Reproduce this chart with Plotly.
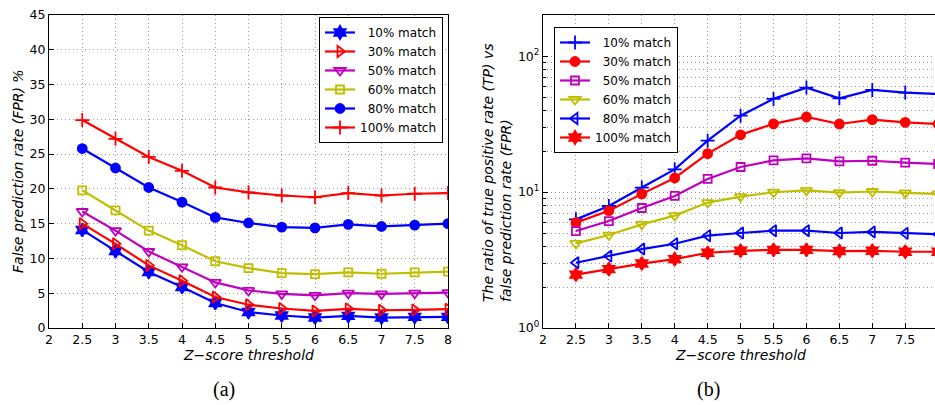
import plotly.graph_objects as go

z = [2.5, 3, 3.5, 4, 4.5, 5, 5.5, 6, 6.5, 7, 7.5, 8]
labels = ["10% match", "30% match", "50% match", "60% match", "80% match", "100% match"]

# (a) False prediction rate (%)
fpr_10 = [14.1, 11.05, 8.05, 5.9, 3.6, 2.3, 1.8, 1.5, 1.75, 1.5, 1.6, 1.6]
fpr_30 = [15.0, 12.1, 9.0, 6.8, 4.45, 3.35, 2.8, 2.45, 2.75, 2.55, 2.6, 2.7]
fpr_50 = [16.75, 14.0, 11.0, 8.8, 6.55, 5.4, 4.9, 4.7, 5.0, 4.9, 5.0, 5.1]
fpr_60 = [19.8, 16.9, 14.0, 11.9, 9.6, 8.6, 7.9, 7.75, 8.0, 7.8, 8.0, 8.1]
fpr_80 = [25.8, 23.0, 20.2, 18.1, 15.9, 15.1, 14.5, 14.4, 14.9, 14.6, 14.8, 15.0]
fpr_100 = [29.9, 27.2, 24.6, 22.6, 20.2, 19.5, 19.05, 18.8, 19.4, 19.05, 19.3, 19.4]

# (b) ratio TP / FPR
ratio_10 = [6.3, 7.9, 10.8, 14.7, 23.9, 36.5, 48.5, 58.7, 49.0, 56.5, 54.0, 52.7]
ratio_30 = [5.96, 7.3, 9.7, 12.7, 19.2, 26.4, 31.8, 35.7, 31.7, 34.1, 32.6, 31.7]
ratio_50 = [5.17, 6.12, 7.64, 9.37, 12.5, 15.3, 17.1, 17.7, 16.8, 17.0, 16.5, 16.1]
ratio_60 = [4.19, 4.83, 5.79, 6.71, 8.37, 9.27, 9.97, 10.3, 9.92, 10.1, 9.86, 9.7]
ratio_80 = [3.02, 3.38, 3.81, 4.17, 4.78, 5.0, 5.2, 5.2, 5.0, 5.09, 4.97, 4.9]
ratio_100 = [2.47, 2.71, 2.98, 3.21, 3.58, 3.70, 3.76, 3.76, 3.68, 3.70, 3.64, 3.64]

x_ticks = [2, 2.5, 3, 3.5, 4, 4.5, 5, 5.5, 6, 6.5, 7, 7.5, 8]
y_ticks_a = [0, 5, 10, 15, 20, 25, 30, 35, 40, 45]
y_ticks_b = [1, 10, 100]
y_ticktext_b = ["10<sup>0</sup>", "10<sup>1</sup>", "10<sup>2</sup>"]
y_minor_b = [2, 3, 4, 5, 6, 7, 8, 9, 20, 30, 40, 50, 60, 70, 80, 90, 200]

BLUE = "#0000ff"
RED = "#ff0000"
MAG = "#bf00bf"
YEL = "#bfbf00"

FONT = "DejaVu Sans, Liberation Sans, sans-serif"

def pad(lbl):
    return ("\u00a0\u00a0" + lbl) if not lbl.startswith("100") else lbl

fig = go.Figure()

series_a = [
    (fpr_10, BLUE, "hexagram", 10),
    (fpr_30, RED, "triangle-right-open", 10),
    (fpr_50, MAG, "triangle-down-open", 10),
    (fpr_60, YEL, "square-open", 8),
    (fpr_80, BLUE, "circle", 9),
    (fpr_100, RED, "cross-thin-open", 10),
]
for (vals, col, sym, sz), lbl in zip(series_a, labels):
    fig.add_trace(go.Scatter(
        x=z, y=vals, mode="lines+markers", name=pad(lbl),
        line=dict(color=col, width=2.2),
        marker=dict(symbol=sym, size=sz, color=col, line=dict(color=col, width=1.8)),
        xaxis="x", yaxis="y", legend="legend",
    ))

series_b = [
    (ratio_10, BLUE, "cross-thin-open", 10),
    (ratio_30, RED, "circle", 9),
    (ratio_50, MAG, "square-open", 8),
    (ratio_60, YEL, "triangle-down-open", 10),
    (ratio_80, BLUE, "triangle-left-open", 10),
    (ratio_100, RED, "hexagram", 10),
]
for (vals, col, sym, sz), lbl in zip(series_b, labels):
    fig.add_trace(go.Scatter(
        x=z, y=vals, mode="lines+markers", name=pad(lbl),
        line=dict(color=col, width=2.2),
        marker=dict(symbol=sym, size=sz, color=col, line=dict(color=col, width=1.8)),
        xaxis="x2", yaxis="y2", legend="legend2",
    ))

grid = dict(showgrid=True, gridcolor="#9a9a9a", griddash="1px,3px", gridwidth=1)
axis_common = dict(
    showline=True, linecolor="black", linewidth=1.2,
    ticks="inside", ticklen=5, tickcolor="black", tickwidth=1,
    tickfont=dict(family=FONT, size=12.5, color="black"),
    zeroline=False, automargin=False, **grid,
)

ydom = [1 - 328 / 405, 1 - 15 / 405]

fig.update_layout(
    width=935, height=405,
    margin=dict(l=0, r=0, t=0, b=0, autoexpand=False),
    paper_bgcolor="white", plot_bgcolor="white",
    font=dict(family=FONT, size=14, color="black"),
    xaxis=dict(domain=[49 / 935, 448 / 935], range=[2, 8], tickmode="array",
               tickvals=x_ticks, anchor="y", mirror=True, **axis_common),
    yaxis=dict(domain=ydom, range=[0, 45], tickmode="array", tickvals=y_ticks_a,
               anchor="x", mirror=True, **axis_common),
    xaxis2=dict(domain=[543 / 935, 1.0], range=[2, 2 + 392 / 65.86], tickmode="array",
                tickvals=x_ticks, anchor="y2", mirror=True, **axis_common),
    yaxis2=dict(domain=ydom, type="log", range=[0, 2.303], tickmode="array",
                tickvals=y_ticks_b, ticktext=y_ticktext_b, anchor="x2", mirror=False,
                minor=dict(tickmode="array", tickvals=y_minor_b, ticks="inside", ticklen=3,
                           tickcolor="black", showgrid=True, gridcolor="#9a9a9a",
                           griddash="1px,3px", gridwidth=1),
                **axis_common),
    legend=dict(x=443 / 935, xanchor="right", y=1 - 17 / 405, yanchor="top",
                bordercolor="black", borderwidth=1, bgcolor="white",
                font=dict(family=FONT, size=12, color="black"), tracegroupgap=0),
    legend2=dict(x=554 / 935, xanchor="left", y=1 - 27 / 405, yanchor="top",
                 bordercolor="black", borderwidth=1, bgcolor="white",
                 font=dict(family=FONT, size=12, color="black"), tracegroupgap=0),
    showlegend=True,
)

title_font = dict(family=FONT, size=14, color="black")
ann = [
    dict(text="<i>False prediction rate (FPR) %</i>", x=18 / 935, y=1 - 171 / 405,
         xref="paper", yref="paper", textangle=-90, showarrow=False, font=title_font,
         xanchor="center", yanchor="middle"),
    dict(text="<i>The ratio of true positive rate (TP) vs<br>false prediction rate (FPR)</i>",
         x=497 / 935, y=1 - 172 / 405, xref="paper", yref="paper", textangle=-90,
         showarrow=False, font=title_font, align="left", xanchor="center", yanchor="middle"),
    dict(text="<i>Z\u2212score threshold</i>", x=5, xref="x", y=1 - 355 / 405, yref="paper",
         showarrow=False, font=title_font, xanchor="center", yanchor="middle"),
    dict(text="<i>Z\u2212score threshold</i>", x=5, xref="x2", y=1 - 355 / 405, yref="paper",
         showarrow=False, font=title_font, xanchor="center", yanchor="middle"),
    dict(text="(a)", x=224 / 935, y=1 - 389 / 405, xref="paper", yref="paper",
         showarrow=False, font=dict(family="Liberation Serif, serif", size=20, color="black"),
         xanchor="center", yanchor="middle"),
    dict(text="(b)", x=708 / 935, y=1 - 389 / 405, xref="paper", yref="paper",
         showarrow=False, font=dict(family="Liberation Serif, serif", size=20, color="black"),
         xanchor="center", yanchor="middle"),
]
fig.update_layout(annotations=ann)

fig.write_html("out.html", config={"displayModeBar": False},
               post_script="document.body.style.margin='0';document.body.style.overflow='hidden';")
